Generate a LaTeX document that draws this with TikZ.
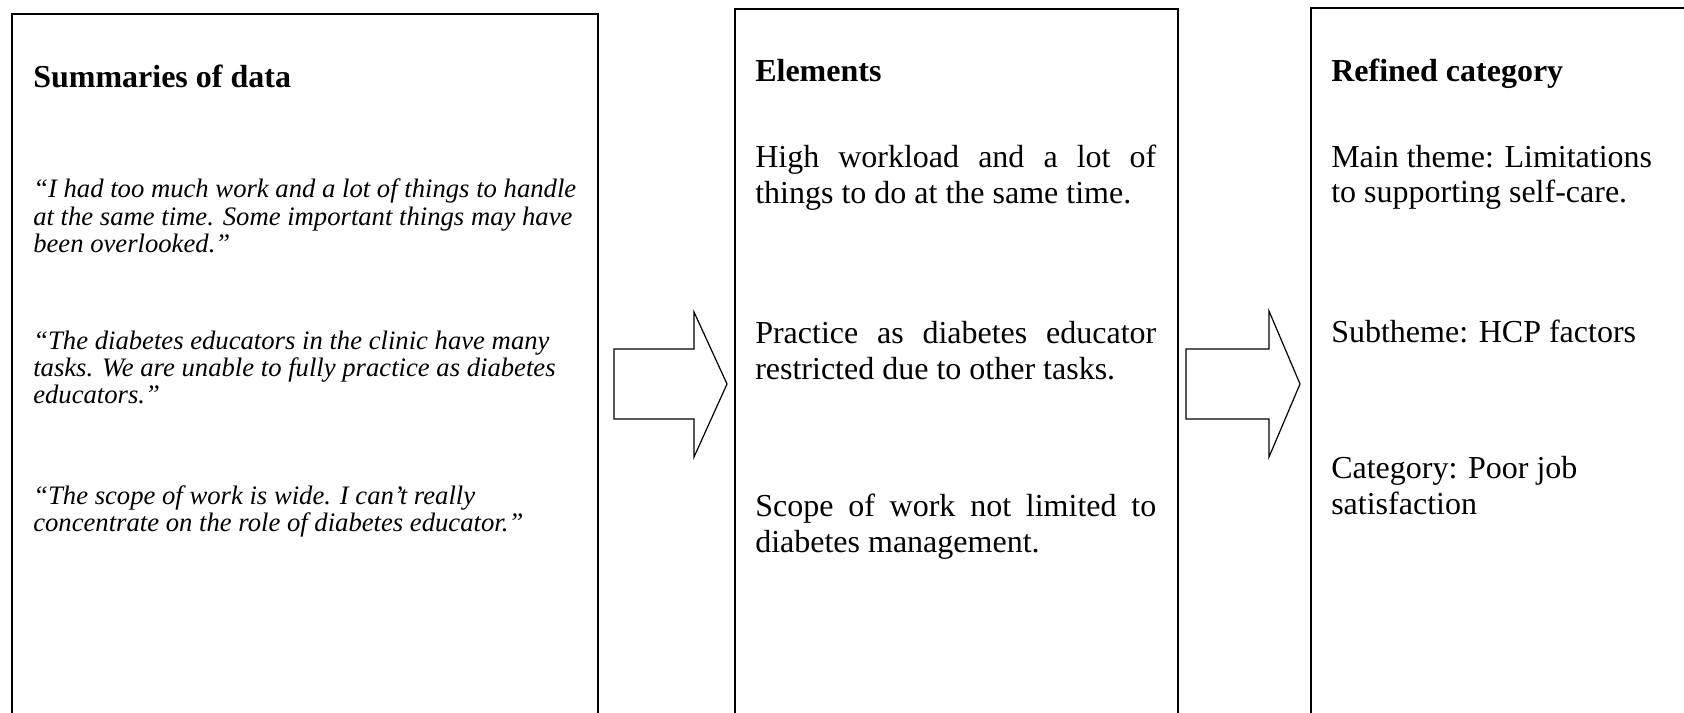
\documentclass[tikz,border=0pt]{standalone}
\usepackage{fontspec}
\setmainfont{Liberation Serif}
\begin{document}
\begin{tikzpicture}[x=0.75pt,y=-0.75pt,
  frame/.style={draw=black,line width=1.3pt,inner sep=0pt,anchor=north west},
  blockarrow/.style={draw=black,line width=0.9pt,line join=miter,fill=white},
  head/.style={anchor=base west,inner sep=0pt,font=\fontsize{24}{26.8}\selectfont\bfseries},
  body/.style={anchor=base west,inner sep=0pt,font=\fontsize{24}{26.8}\selectfont},
  citeline/.style={anchor=base west,inner sep=0pt,font=\fontsize{20}{23}\selectfont\itshape}]
\useasboundingbox (0,0) rectangle (1684,713);
\clip (0,0) rectangle (1684,713);
\fill[white] (0,0) rectangle (1684,713);

% three column frames, running past the lower (and right) edge
\node[frame,minimum width=439.5pt,minimum height=560pt] (sumbox) at (11,13) {};
\node[frame,minimum width=332.25pt,minimum height=565pt] (elembox) at (734,8) {};
\node[frame,minimum width=340pt,minimum height=565pt] (catbox) at (1310,7) {};

% block arrows between the columns
\coordinate (a1) at (614,349);
\coordinate (a2) at (1186,349);
\draw[blockarrow] (a1) -- ++(80,0) -- ++(0,-37) -- ++(33,72) -- ++(-33,73) -- ++(0,-38) -- ++(-80,0) -- cycle;
\draw[blockarrow] (a2) -- ++(83,0) -- ++(0,-38) -- ++(31,73) -- ++(-31,73) -- ++(0,-38) -- ++(-83,0) -- cycle;

% column 1: summaries of data
\node[head] (sumhead) at (33,88) {Summaries of data};
\node[citeline] (q1a) at (33,198) {“I had too much work and a lot of things to handle};
\node[citeline] (q1b) at (33,225) {at the same time. Some important things may have};
\node[citeline] (q1c) at (33,252) {been overlooked.”};
\node[citeline] (q2a) at (33,349) {“The diabetes educators in the clinic have many};
\node[citeline] (q2b) at (33,376) {tasks. We are unable to fully practice as diabetes};
\node[citeline] (q2c) at (33,403) {educators.”};
\node[citeline] (q3a) at (33,504) {“The scope of work is wide. I can’t really};
\node[citeline] (q3b) at (33,531) {concentrate on the role of diabetes educator.”};

% column 2: elements
\node[head] (elemhead) at (755,82) {Elements};
\node[body] (e1a) at (755,168) {\makebox[300.75pt][s]{High workload and a lot of}};
\node[body] (e1b) at (755,204) {things to do at the same time.};
\node[body] (e2a) at (755,343) {\makebox[300.75pt][s]{Practice as diabetes educator}};
\node[body] (e2b) at (755,379) {restricted due to other tasks.};
\node[body] (e3a) at (755,516) {\makebox[300.75pt][s]{Scope of work not limited to}};
\node[body] (e3b) at (755,552) {diabetes management.};

% column 3: refined category
\node[head] (cathead) at (1331,82) {Refined category};
\node[body] (c1a) at (1331,168) {Main theme: Limitations};
\node[body] (c1b) at (1331,203) {to supporting self-care.};
\node[body] (c2) at (1331,342) {Subtheme: HCP factors};
\node[body] (c3a) at (1331,478) {Category: Poor job};
\node[body] (c3b) at (1331,514) {satisfaction};
\end{tikzpicture}
\end{document}
